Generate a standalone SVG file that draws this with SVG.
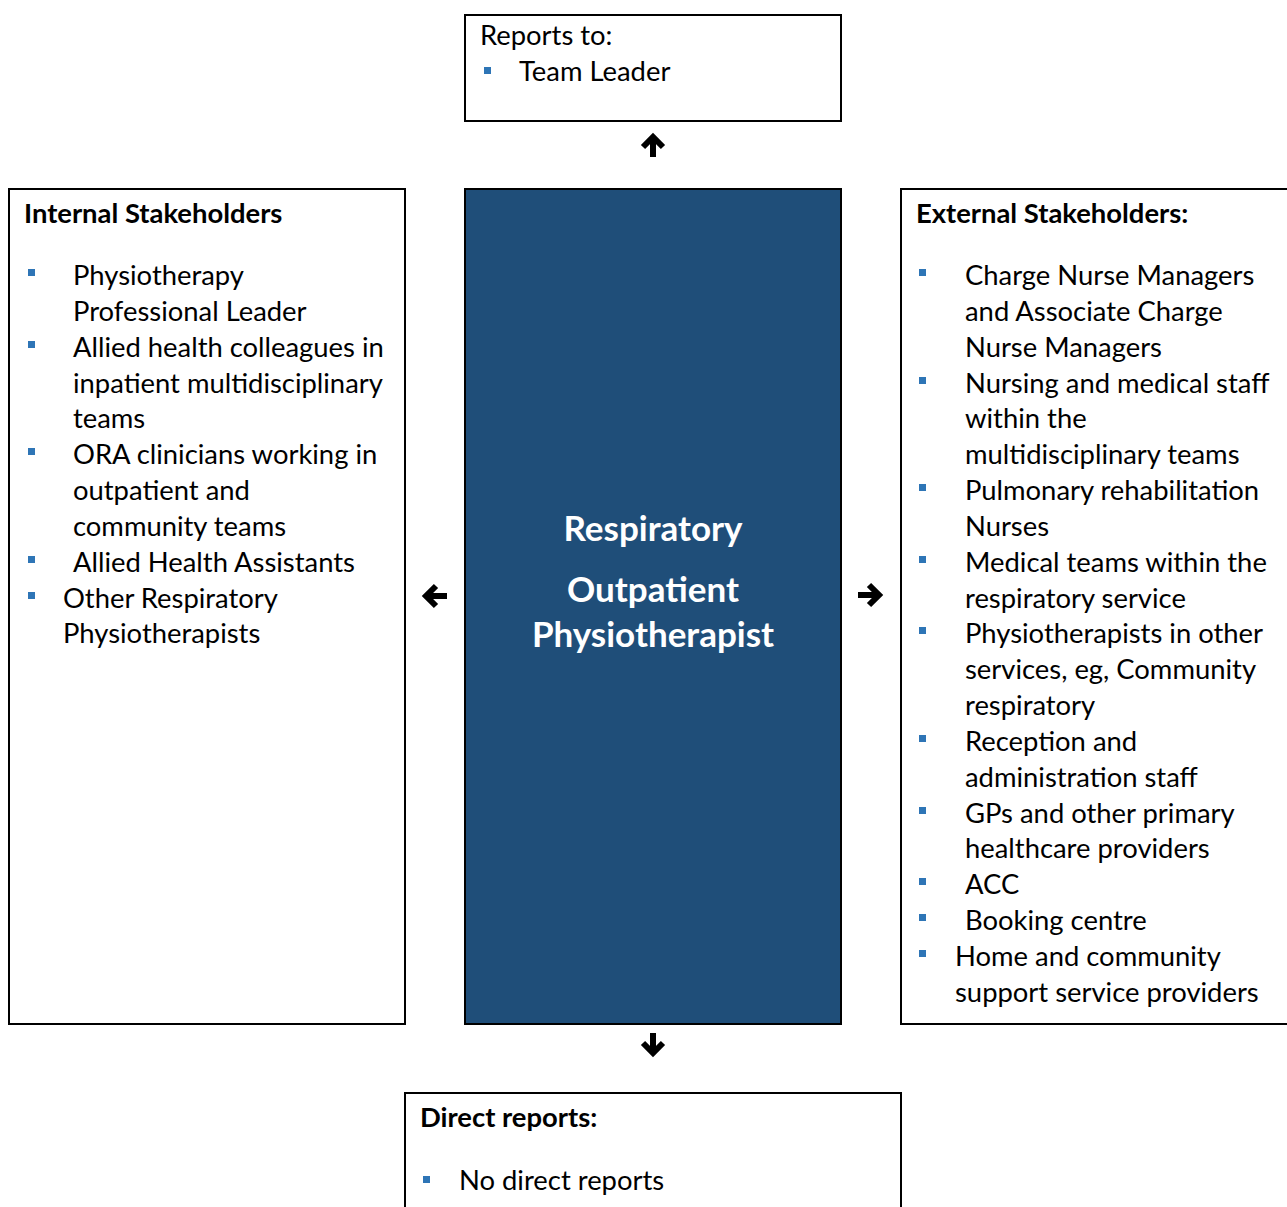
<svg xmlns="http://www.w3.org/2000/svg" width="1287" height="1207" viewBox="0 0 1287 1207">
<defs>
<style>
.box{fill:#fff;stroke:#000;stroke-width:2}
.t{font-family:Lato,"Open Sans","Liberation Sans",sans-serif;font-size:27.4px;fill:#000}
.b{font-weight:bold}
.c{font-family:Lato,"Open Sans","Liberation Sans",sans-serif;font-size:35px;font-weight:bold;fill:#fff;text-anchor:middle}
.bul{fill:#2E75B6}
.arr{fill:none;stroke:#000;stroke-width:6;stroke-linejoin:miter}
</style>
<rect id="bl" width="7" height="7" class="bul"/>
</defs>
<rect width="1287" height="1207" fill="#fff"/>
<g id="connectors">
<path class="arr" d="M653,157 V137 M643,147 L653,137 L663,147"/>
<path class="arr" d="M653,1033 V1053 M643,1043 L653,1053 L663,1043"/>
<path class="arr" d="M447,596 H426 M436,586 L426,596 L436,606"/>
<path class="arr" d="M858,595 H879 M869,585 L879,595 L869,605"/>
</g>
<g id="reports-to">
<rect class="box" x="465" y="15" width="376" height="106"/>
<text class="t" x="480" y="45">Reports to:</text>
<use href="#bl" x="484" y="67"/>
<text class="t" x="519" y="81">Team Leader</text>
</g>
<g id="internal">
<rect class="box" x="9" y="189" width="396" height="835"/>
<text class="t b" x="24" y="223">Internal Stakeholders</text>
<use href="#bl" x="28" y="269"/>
<use href="#bl" x="28" y="341"/>
<use href="#bl" x="28" y="448"/>
<use href="#bl" x="28" y="556"/>
<use href="#bl" x="28" y="592"/>
<text class="t" x="73" y="285">Physiotherapy</text>
<text class="t" x="73" y="321">Professional Leader</text>
<text class="t" x="73" y="357">Allied health colleagues in</text>
<text class="t" x="73" y="393">inpatient multidisciplinary</text>
<text class="t" x="73" y="428">teams</text>
<text class="t" x="73" y="464">ORA clinicians working in</text>
<text class="t" x="73" y="500">outpatient and</text>
<text class="t" x="73" y="536">community teams</text>
<text class="t" x="73" y="572">Allied Health Assistants</text>
<text class="t" x="63" y="608">Other Respiratory</text>
<text class="t" x="63" y="643">Physiotherapists</text>
</g>
<g id="role">
<rect x="465" y="189" width="376" height="835" fill="#1F4E79" stroke="#000" stroke-width="2"/>
<text class="c" x="653" y="541">Respiratory</text>
<text class="c" x="653" y="602">Outpatient</text>
<text class="c" x="653" y="647">Physiotherapist</text>
</g>
<g id="external">
<rect class="box" x="901" y="189" width="390" height="835"/>
<text class="t b" x="916" y="223">External Stakeholders:</text>
<use href="#bl" x="919" y="269"/>
<use href="#bl" x="919" y="377"/>
<use href="#bl" x="919" y="484"/>
<use href="#bl" x="919" y="556"/>
<use href="#bl" x="919" y="627"/>
<use href="#bl" x="919" y="735"/>
<use href="#bl" x="919" y="807"/>
<use href="#bl" x="919" y="878"/>
<use href="#bl" x="919" y="914"/>
<use href="#bl" x="919" y="950"/>
<text class="t" x="965" y="285">Charge Nurse Managers</text>
<text class="t" x="965" y="321">and Associate Charge</text>
<text class="t" x="965" y="357">Nurse Managers</text>
<text class="t" x="965" y="393">Nursing and medical staff</text>
<text class="t" x="965" y="428">within the</text>
<text class="t" x="965" y="464">multidisciplinary teams</text>
<text class="t" x="965" y="500">Pulmonary rehabilitation</text>
<text class="t" x="965" y="536">Nurses</text>
<text class="t" x="965" y="572">Medical teams within the</text>
<text class="t" x="965" y="608">respiratory service</text>
<text class="t" x="965" y="643">Physiotherapists in other</text>
<text class="t" x="965" y="679">services, eg, Community</text>
<text class="t" x="965" y="715">respiratory</text>
<text class="t" x="965" y="751">Reception and</text>
<text class="t" x="965" y="787">administration staff</text>
<text class="t" x="965" y="823">GPs and other primary</text>
<text class="t" x="965" y="858">healthcare providers</text>
<text class="t" x="965" y="894">ACC</text>
<text class="t" x="965" y="930">Booking centre</text>
<text class="t" x="955" y="966">Home and community</text>
<text class="t" x="955" y="1002">support service providers</text>
</g>
<g id="direct-reports">
<rect class="box" x="405" y="1093" width="496" height="130"/>
<text class="t b" x="420" y="1127">Direct reports:</text>
<use href="#bl" x="423" y="1176"/>
<text class="t" x="459" y="1190">No direct reports</text>
</g>
</svg>
